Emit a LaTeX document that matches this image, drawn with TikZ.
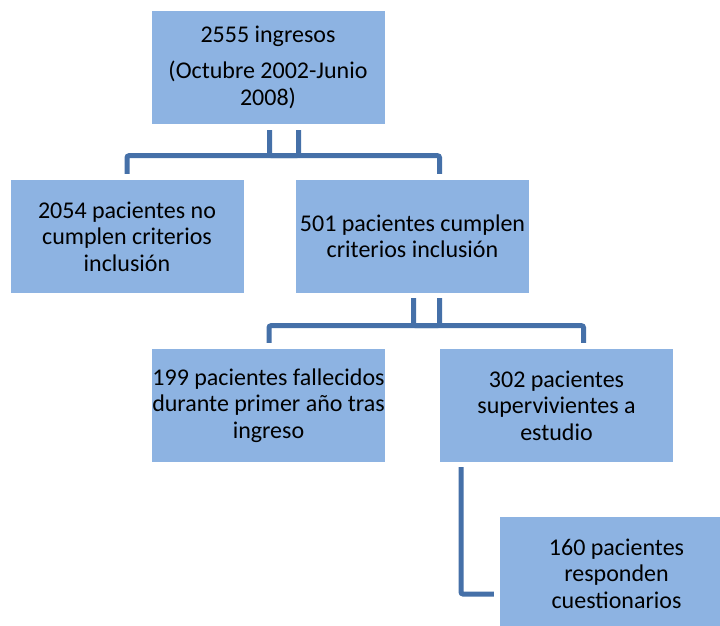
\documentclass[tikz,border=0pt]{standalone}
\usepackage{fontspec}
\setmainfont{Carlito}
\usetikzlibrary{calc}
\definecolor{boxfill}{HTML}{8DB3E2}
\definecolor{connclr}{HTML}{4570A8}
\tikzset{
  box/.style={rectangle, fill=boxfill, draw=none, minimum width=233pt, minimum height=113pt, inner sep=0pt, align=center, font=\fontsize{24}{26.5}\selectfont},
  conn/.style={draw=connclr, line width=5pt, rounded corners=2pt}
}
\begin{document}
\begin{tikzpicture}[x=1pt,y=-1pt]
\clip (0,0) rectangle (720,626);
\fill[white] (0,0) rectangle (720,626);
\node[box] (top) at (268,67.5) {2555 ingresos\\[9.5pt](Octubre 2002-Junio\\2008)};
\node[box] (n1) at (127,236.5) {2054 pacientes no\\cumplen criterios\\inclusión};
\node[box] (n2) at (412.5,236.5) {501 pacientes cumplen\\criterios inclusión};
\node[box] (n3) at (268.5,405.5) {199 pacientes fallecidos\\durante primer año tras\\ingreso};
\node[box] (n4) at (556.5,405.5) {302 pacientes\\supervivientes a\\estudio};
\node[box] (n5) at (616.5,573.5) {160 pacientes\\responden\\cuestionarios};
% connectors row 1
\coordinate (u1a) at ([xshift=1.5pt,yshift=-6pt]top.south);
\coordinate (u1b) at ([xshift=30.5pt,yshift=-6pt]top.south);
\coordinate (h1) at ($(top.south)+(16,31.5)$);
\draw[conn] (u1a) |- (h1) -| (u1b);
\draw[conn] ([yshift=6pt]n1.north) |- (h1) -| ([xshift=27pt,yshift=6pt]n2.north);
% connectors row 2
\coordinate (u2a) at ([xshift=1pt,yshift=-5pt]n2.south);
\coordinate (u2b) at ([xshift=27pt,yshift=-5pt]n2.south);
\coordinate (h2) at ($(n2.south)+(14,32.5)$);
\draw[conn] (u2a) |- (h2) -| (u2b);
\draw[conn] ([xshift=0.5pt,yshift=6pt]n3.north) |- (h2) -| ([xshift=27pt,yshift=6pt]n4.north);
% connector row 3
\draw[conn] ([xshift=-95.5pt,yshift=-5pt]n4.south) |- ([xshift=-6pt,yshift=-20.5pt]n5.west);
\end{tikzpicture}
\end{document}
